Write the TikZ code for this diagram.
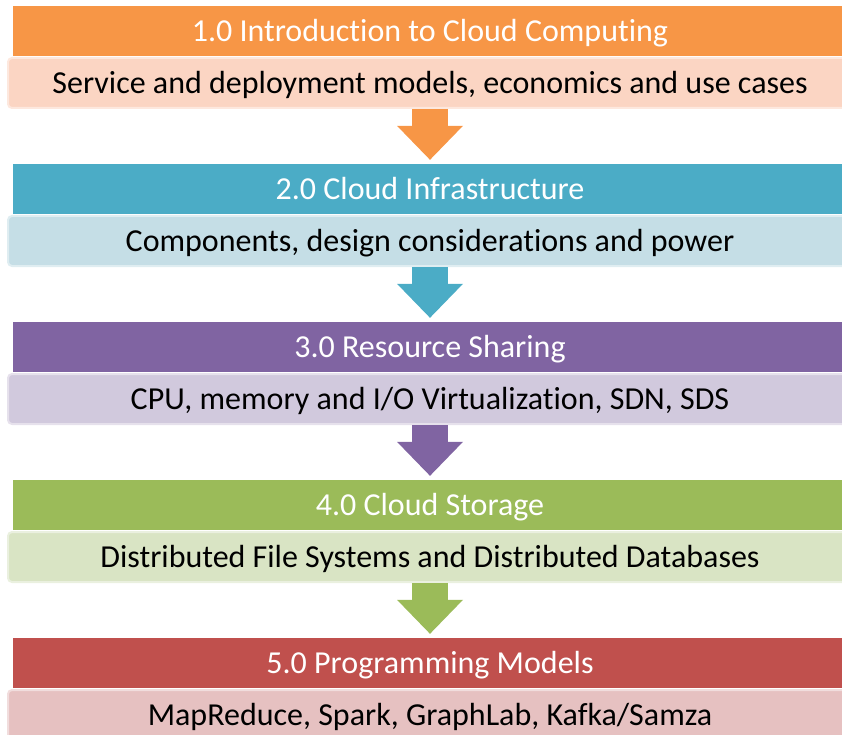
\documentclass[tikz,border=0pt]{standalone}
\usepackage{fontspec}
\setmainfont{Carlito}[Ligatures=NoCommon]
\usetikzlibrary{arrows.meta,positioning,calc}
\definecolor{introorange}{RGB}{247,150,70}
\definecolor{introlight}{RGB}{251,213,195}
\definecolor{infrablue}{RGB}{75,172,198}
\definecolor{infralight}{RGB}{197,222,230}
\definecolor{sharepurple}{RGB}{128,100,162}
\definecolor{sharelight}{RGB}{209,201,221}
\definecolor{storegreen}{RGB}{155,187,89}
\definecolor{storelight}{RGB}{217,228,196}
\definecolor{progred}{RGB}{192,80,77}
\definecolor{proglight}{RGB}{230,193,193}

\begin{document}
\begin{tikzpicture}[x=1pt, y=-1pt,
    header/.style={rectangle, inner sep=0pt, minimum width=834pt, minimum height=50pt,
        text=white, font=\fontsize{32}{38}\selectfont, text height=24pt, text depth=3pt},
    topic/.style={rectangle, rounded corners=4pt, inner sep=0pt, line width=2pt,
        minimum width=844pt, minimum height=50pt,
        text=black, font=\fontsize{32}{38}\selectfont, text height=24pt, text depth=3pt},
    flowarrow/.style={line width=36pt, shorten >=4pt,
        -{Triangle[width=66pt, length=34pt, line width=0pt]}}]
    \useasboundingbox (0,0) rectangle (842,735);
    \clip (0,0) rectangle (842,735);

    % Chapter headers
    \node[header, fill=introorange] (intro) at (430,31) {1.0 Introduction to Cloud Computing};
    \node[header, fill=infrablue] (infra) at (430,189) {2.0 Cloud Infrastructure};
    \node[header, fill=sharepurple] (sharing) at (430,347) {3.0 Resource Sharing};
    \node[header, fill=storegreen] (storage) at (430,505) {4.0 Cloud Storage};
    \node[header, fill=progred] (progmodels) at (430,663) {5.0 Programming Models};

    % Topics under each header
    \node[topic, fill=introlight, draw=white!45!introlight] (introtxt) at (430,83) {Service and deployment models, economics and use cases};
    \node[topic, fill=infralight, draw=white!45!infralight] (infratxt) at (430,241) {Components, design considerations and power};
    \node[topic, fill=sharelight, draw=white!45!sharelight] (sharingtxt) at (430,399) {CPU, memory and I/O Virtualization, SDN, SDS};
    \node[topic, fill=storelight, draw=white!45!storelight] (storagetxt) at (430,557) {Distributed File Systems and Distributed Databases};
    \node[topic, fill=proglight, draw=white!45!proglight] (progtxt) at (430,715) {MapReduce, Spark, GraphLab, Kafka/Samza};

    % Arrows between chapters
    \draw[flowarrow, introorange] (introtxt.south) -- (infra.north);
    \draw[flowarrow, infrablue] (infratxt.south) -- (sharing.north);
    \draw[flowarrow, sharepurple] (sharingtxt.south) -- (storage.north);
    \draw[flowarrow, storegreen] (storagetxt.south) -- (progmodels.north);
\end{tikzpicture}
\end{document}
